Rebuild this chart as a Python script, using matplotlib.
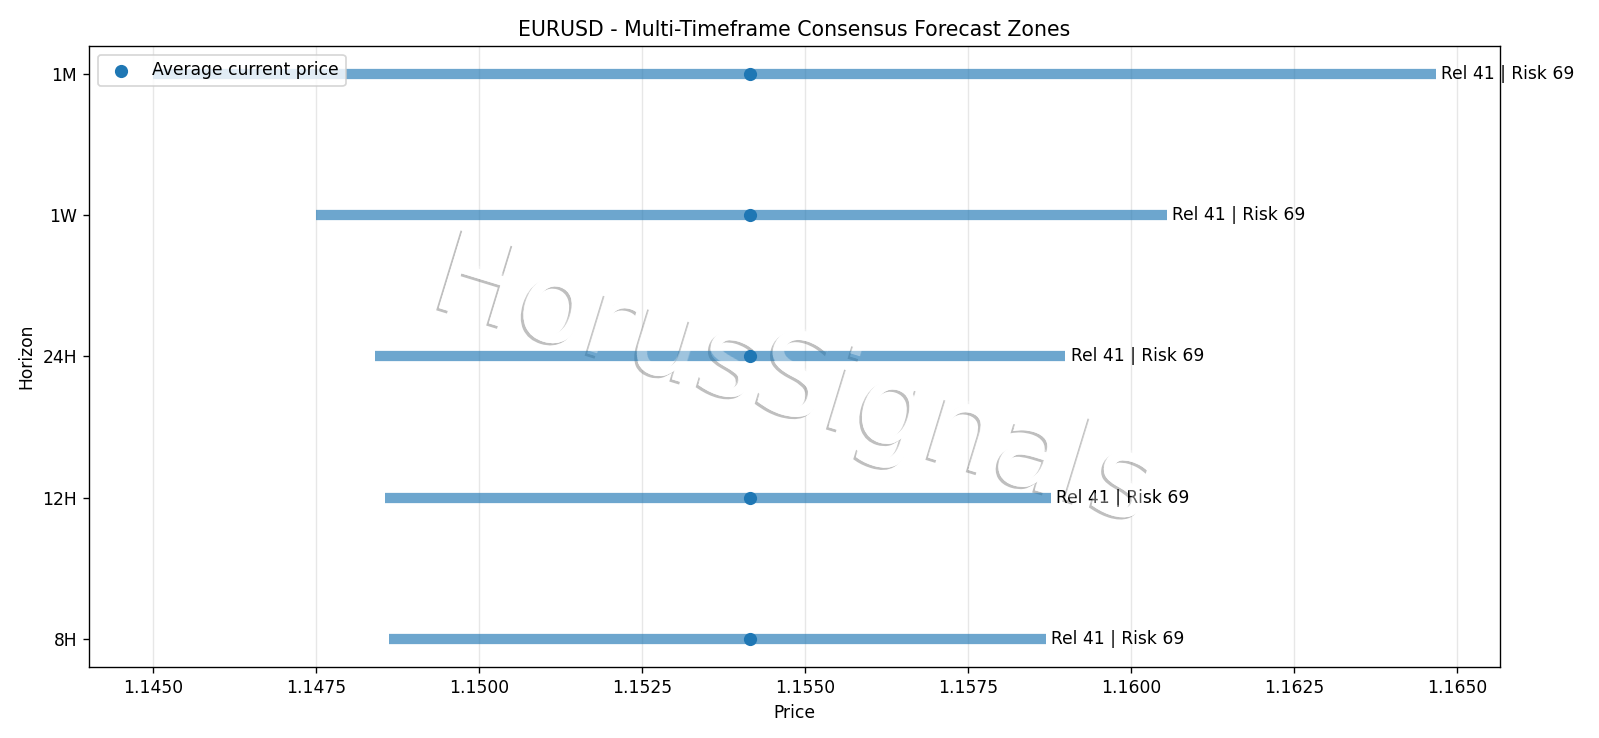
import matplotlib
matplotlib.use("Agg")
import matplotlib.pyplot as plt
import matplotlib.patheffects as pe

# forecast zones per horizon (bottom to top)
horizons = ["8H", "12H", "24H", "1W", "1M"]
zone_low = [1.14862, 1.14856, 1.14840, 1.14750, 1.14500]
zone_high = [1.15869, 1.15877, 1.15899, 1.16054, 1.16467]
reliability = [41, 41, 41, 41, 41]
risk = [69, 69, 69, 69, 69]
current_price = 1.15416

fig, ax = plt.subplots(figsize=(13.008, 6.0), dpi=123)
fig.subplots_adjust(left=0.0556, right=0.9375, top=0.9377, bottom=0.0962)

ypos = list(range(len(horizons)))
ax.hlines(ypos, zone_low, zone_high, linewidth=6, alpha=0.65, color="C0", zorder=2)
ax.scatter([current_price] * len(ypos), ypos, s=45, color="C0", zorder=3,
           label="Average current price")

for y, hi, rel, rk in zip(ypos, zone_high, reliability, risk):
    ax.annotate(f"Rel {rel} | Risk {rk}", (hi, y), xytext=(3, 0),
                textcoords="offset points", va="center")

ax.set_yticks(ypos)
ax.set_yticklabels(horizons)
ax.set_xlabel("Price")
ax.set_ylabel("Horizon")
ax.set_title("EURUSD - Multi-Timeframe Consensus Forecast Zones")
ax.grid(axis="x", alpha=0.3)
ax.legend(loc="upper left")

# watermark: shadow + white knock-out under the lines, faint white on top
wm = dict(transform=ax.transAxes, ha="center", va="center", fontsize=67, rotation=-17)
ax.text(0.5, 0.456, "HorusSignals", color="white", zorder=1.6,
        path_effects=[pe.withSimplePatchShadow(offset=(-1.6, -1.3), shadow_rgbFace="gray", alpha=0.5),
                      pe.Normal()], **wm)
ax.text(0.5, 0.456, "HorusSignals", color="white", alpha=0.35, zorder=5, **wm)

fig.savefig("out.png", dpi=123)
